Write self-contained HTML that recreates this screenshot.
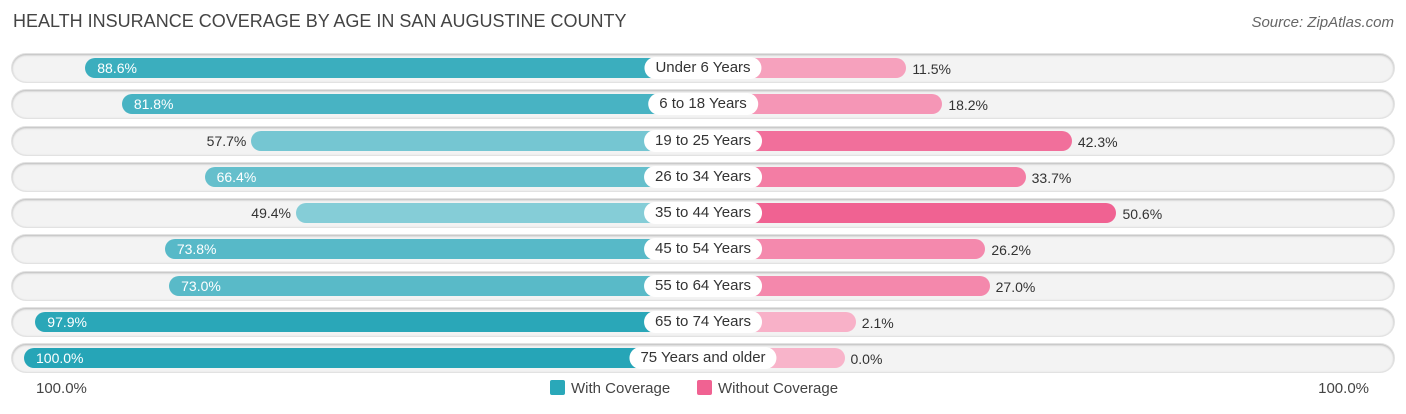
<!DOCTYPE html>
<html><head><meta charset="utf-8"><style>
body{margin:0;width:1406px;height:414px;background:#fff;font-family:"Liberation Sans",sans-serif;overflow:hidden;position:relative}
.t{position:absolute;left:13px;top:11px;font-size:18px;color:#444}
.s{position:absolute;right:12px;top:14px;font-size:15px;color:#666;font-style:italic}
.row{position:absolute;left:12px;width:1382px;height:28px;border-radius:14px;background:#f3f3f3;box-shadow:0 1px 2px rgba(0,0,0,.25) inset,0 0 0 1px #e2e2e2}
.bar{position:absolute;height:20px;border-radius:10px}
.lab{position:absolute;height:22px;line-height:22px;padding:0 11px;background:#fff;border-radius:11px;font-size:15px;color:#333;transform:translateX(-50%)}
.v{position:absolute;font-size:14px;line-height:20px;color:#333}
.leg{position:absolute;top:380px;font-size:15px;color:#444}
.sw{display:inline-block;width:15px;height:15px;vertical-align:-2px;margin-right:6px;border-radius:2px}
</style></head><body>
<div class="t">HEALTH INSURANCE COVERAGE BY AGE IN SAN AUGUSTINE COUNTY</div>
<div class="s">Source: ZipAtlas.com</div>
<div id="chart"></div>
<div class="leg" style="left:36px">100.0%</div>
<div class="leg" style="right:37px">100.0%</div>
<div class="leg" style="left:550px"><span class="sw" style="background:#2aa8b9"></span>With Coverage</div>
<div class="leg" style="left:697px"><span class="sw" style="background:#f06292"></span>Without Coverage</div>
<script>
const categories=["Under 6 Years","6 to 18 Years","19 to 25 Years","26 to 34 Years","35 to 44 Years","45 to 54 Years","55 to 64 Years","65 to 74 Years","75 Years and older"];
const withCov=[88.6,81.8,57.7,66.4,49.4,73.8,73.0,97.9,100.0];
const withoutCov=[11.5,18.2,42.3,33.7,50.6,26.2,27.0,2.1,0.0];
const cx=703,off=141.5,k=5.375,top0=68,step=36.25;
function w(v){return off+k*v}
function mix(a,b,t){return 'rgb('+a.map((x,i)=>Math.round(x+(b[i]-x)*t)).join(',')+')'}
const ch=document.getElementById('chart');
categories.forEach((c,i)=>{
 const y=top0+i*step;
 const r=document.createElement('div');r.className='row';r.style.top=(y-14)+'px';
 
 
 ch.appendChild(r);
 const a=withCov[i],b=withoutCov[i];
 const bl=document.createElement('div');bl.className='bar';
 bl.style.left=(cx-w(a))+'px';bl.style.width=w(a)+'px';bl.style.top=(y-10)+'px';
 bl.style.background=mix([141,208,218],[38,165,183],Math.max(0,Math.min(1,(a-45)/55)));
 
 
 ch.appendChild(bl);
 const br=document.createElement('div');br.className='bar';
 br.style.left=cx+'px';br.style.width=w(b)+'px';br.style.top=(y-10)+'px';
 br.style.background=mix([248,180,202],[240,98,146],Math.max(0,Math.min(1,b/50)));
 
 
 ch.appendChild(br);
 const va=document.createElement('div');va.className='v';va.textContent=a.toFixed(1)+'%';va.style.top=(y-10)+'px';
 if(a>60){va.style.left=(cx-w(a)+12)+'px';va.style.color='#fff';}else{va.style.right=(1406-(cx-w(a))+5)+'px';}
 
 
 ch.appendChild(va);
 const vb=document.createElement('div');vb.className='v';vb.textContent=b.toFixed(1)+'%';vb.style.top=(y-9)+'px';
 vb.style.left=(cx+w(b)+6)+'px';
 
 
 ch.appendChild(vb);
 const l=document.createElement('div');l.className='lab';l.textContent=c;l.style.left=cx+'px';l.style.top=(y-11)+'px';
 
 
 ch.appendChild(l);
});
</script>
</body></html>
